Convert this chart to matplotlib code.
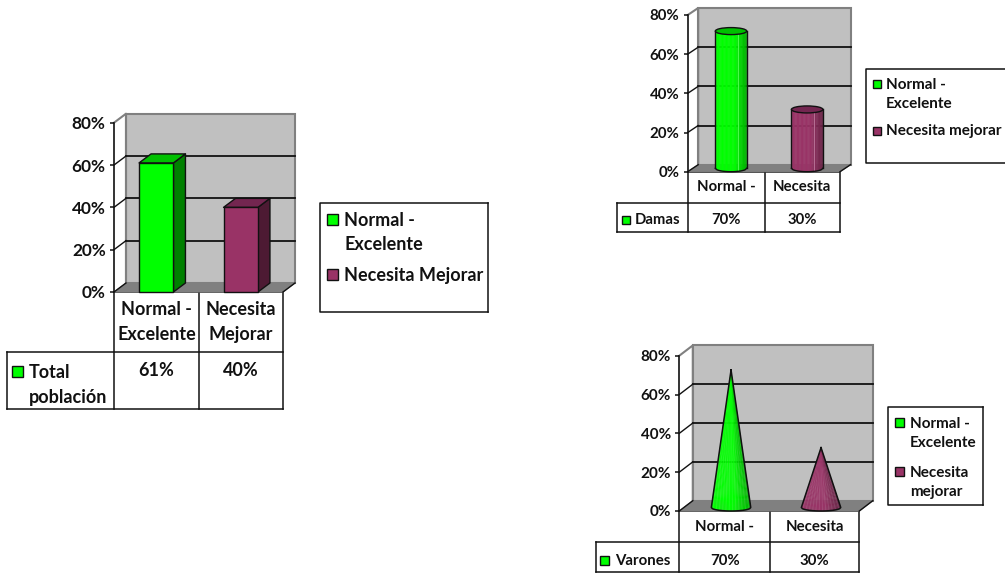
import numpy as np
import matplotlib
matplotlib.use("Agg")
import matplotlib.pyplot as plt
from matplotlib.colors import to_rgb
from matplotlib.patches import Polygon, Rectangle, Ellipse

plt.rcParams["font.family"] = ["Lato", "DejaVu Sans"]
plt.rcParams["font.weight"] = "bold"

W, H = 1005, 573

# Values
y_ticks = [0, 20, 40, 60, 80]
total_values = [61, 40]
damas_values = [70, 30]
varones_values = [70, 30]
total_categories = ["Normal -\nExcelente", "Necesita\nMejorar"]
damas_categories = ["Normal -", "Necesita"]
varones_categories = ["Normal -", "Necesita"]
total_series = "Total\npoblación"
damas_series = "Damas"
varones_series = "Varones"
total_legend = ["Normal -\nExcelente", "Necesita Mejorar"]
damas_legend = ["Normal -\nExcelente", "Necesita mejorar"]
varones_legend = ["Normal -\nExcelente", "Necesita\nmejorar"]

# Palette
GREEN = "#00FF00"
MAROON = "#993366"
GREEN_TOP, GREEN_SIDE = "#00C000", "#008000"
MAROON_TOP, MAROON_SIDE = "#732650", "#4D1A33"
WALL = "#C0C0C0"
FLOOR = "#808080"
INK = "#111111"

fig = plt.figure(figsize=(W / 100, H / 100), dpi=100)

# Pixel-space layer for table grids and legend boxes
sheet = fig.add_axes([0, 0, 1, 1])
sheet.set_xlim(0, W)
sheet.set_ylim(H, 0)
sheet.axis("off")


def shade(color, factor, tint=0.0):
    rgb = np.array(to_rgb(color)) * factor
    return tuple(rgb + (1 - rgb) * tint)


def make_axes(left, right, top, bottom, tick_size):
    ax = fig.add_axes([left / W, 1 - bottom / H, (right - left) / W, (bottom - top) / H])
    ax.set_xlim(0, 2)
    ax.set_ylim(0, 80)
    ax.patch.set_alpha(0)
    for name in ("top", "right", "bottom"):
        ax.spines[name].set_visible(False)
    ax.spines["left"].set_linewidth(1.2)
    ax.spines["left"].set_color(INK)
    ax.set_xticks([])
    ax.set_yticks(y_ticks)
    ax.set_yticklabels([f"{t}%" for t in y_ticks], fontsize=tick_size, color=INK)
    ax.tick_params(axis="y", length=3, width=1.1, pad=3, color=INK)
    return ax


def draw_room(ax, ddx, ddy):
    """Back wall, floor and gridlines; depth offset is in data units."""
    ax.add_patch(Rectangle((ddx, ddy), 2, 80, fc=WALL, ec=FLOOR, lw=1.5, clip_on=False, zorder=1))
    ax.add_patch(Polygon([(0, 0), (2, 0), (2 + ddx, ddy), (ddx, ddy)], fc=FLOOR, ec=FLOOR, lw=0.8,
                         clip_on=False, zorder=1.2))
    ax.plot([0, ddx, ddx], [80, 80 + ddy, ddy], color=FLOOR, lw=1.5, clip_on=False, zorder=1.1)
    for t in y_ticks[:-1]:
        ax.plot([0, ddx], [t, t + ddy], color=INK, lw=1.0, clip_on=False, zorder=1.3)
    for t in y_ticks[1:-1]:
        ax.plot([ddx, 2 + ddx], [t + ddy, t + ddy], color=INK, lw=1.3, clip_on=False, zorder=1.3)
    ax.plot([2, 2 + ddx], [0, ddy], color=INK, lw=1.0, clip_on=False, zorder=1.3)


def draw_box(ax, i, value, half, ddx, ddy, front, top, side):
    c = i + 0.5
    l, r = c - half, c + half
    kw = dict(ec=INK, lw=1.0, clip_on=False, zorder=3, joinstyle="round")
    ax.add_patch(Polygon([(r, 0), (r + ddx, ddy), (r + ddx, value + ddy), (r, value)], fc=side, **kw))
    ax.add_patch(Polygon([(l, value), (r, value), (r + ddx, value + ddy), (l + ddx, value + ddy)], fc=top, **kw))
    ax.add_patch(Rectangle((l, 0), r - l, value, fc=front, **kw))


def facet_shades(color, n, streaks=False):
    """Colour of each vertical facet from the left edge to the right edge."""
    out = []
    for k, t in enumerate(np.linspace(0, 1, n)):
        factor = 1.0 if t < 0.62 else 1.0 - 0.3 * ((t - 0.62) / 0.38)
        tint = 0.10 if streaks and k % 3 == 1 else 0.0
        out.append(shade(color, factor, tint))
    return out


def draw_cylinder(ax, i, value, half, ddx, ddy, ry, front, top):
    cx = i + 0.5 + ddx / 2
    base, head = ddy / 2, value + ddy / 2
    xs = np.linspace(-half, half, 25)
    # facets follow the elliptical section of the tube
    ell = ry * np.sqrt(np.clip(1 - (xs / half) ** 2, 0, 1))
    for k, col in enumerate(facet_shades(front, len(xs) - 1)):
        ax.add_patch(Polygon([(cx + xs[k], base - ell[k]), (cx + xs[k + 1], base - ell[k + 1]),
                              (cx + xs[k + 1], head - ell[k + 1]), (cx + xs[k], head - ell[k])],
                             fc=col, ec=col, lw=0.3, clip_on=False, zorder=3))
    # pale seam running down the right part of the tube
    seam = cx + 0.45 * half
    ax.plot([seam, seam], [base - 0.7 * ry, head - 0.7 * ry], color=shade(front, 1.0, 0.35), lw=0.6,
            clip_on=False, zorder=3.1)
    ax.plot(cx + xs, base - ell, color=INK, lw=1.0, clip_on=False, zorder=3.2)
    ax.plot([cx - half, cx - half], [base, head], color=INK, lw=1.0, clip_on=False, zorder=3.2)
    ax.plot([cx + half, cx + half], [base, head], color=INK, lw=1.0, clip_on=False, zorder=3.2)
    ax.add_patch(Ellipse((cx, head), 2 * half, 2 * ry, fc=top, ec=INK, lw=1.0, clip_on=False, zorder=3.3))


def draw_cone(ax, i, value, half, ddx, ddy, ry, front):
    cx = i + 0.5 + ddx / 2
    base, tip = ddy * 0.34, value + ddy / 2
    xs = np.linspace(-half, half, 37)
    ell = ry * np.sqrt(np.clip(1 - (xs / half) ** 2, 0, 1))
    for k, col in enumerate(facet_shades(front, len(xs) - 1, streaks=True)):
        ax.add_patch(Polygon([(cx + xs[k], base - ell[k]), (cx + xs[k + 1], base - ell[k + 1]), (cx, tip)],
                             fc=col, ec=col, lw=0.2, clip_on=False, zorder=3))
    ax.plot(np.r_[cx, cx + xs, cx], np.r_[tip, base - ell, tip], color=INK, lw=1.1, clip_on=False, zorder=3.2)


def draw_table(left, mid, right, y0, y1, y2, label_left, series, categories, values, size, swatch,
               label_x, val_y, label_y, spacing=1.25):
    lw = 1.1
    sheet.plot([left, right, right], [y0, y0, y2], color=INK, lw=lw)
    sheet.plot([left, left], [y0, y2], color=INK, lw=lw)
    sheet.plot([mid, mid], [y0, y2], color=INK, lw=lw)
    sheet.plot([label_left, right], [y1, y1], color=INK, lw=lw)
    sheet.plot([label_left, right], [y2, y2], color=INK, lw=lw)
    sheet.plot([label_left, label_left], [y1, y2], color=INK, lw=lw)
    centers = [(left + mid) / 2, (mid + right) / 2]
    for c, cat, v in zip(centers, categories, values):
        sheet.text(c, (y0 + y1) / 2, cat, ha="center", va="center", fontsize=size, color=INK, linespacing=spacing)
        sheet.text(c, val_y, f"{v}%", ha="center", va="center", fontsize=size, color=INK)
    sx, sy, ss = swatch
    sheet.add_patch(Rectangle((sx, sy), ss, ss, fc=GREEN, ec=INK, lw=1.0))
    sheet.text(label_x, label_y, series, ha="left", va="center", fontsize=size, color=INK, linespacing=spacing)


def draw_legend(box, labels, swatches, text_x, text_ys, size, swatch_size, spacing, open_right=False):
    x0, y0, x1, y1 = box
    lw = 1.1
    sheet.plot([x1, x0, x0, x1], [y0, y0, y1, y1], color=INK, lw=lw, clip_on=False)
    if not open_right:
        sheet.plot([x1, x1], [y0, y1], color=INK, lw=lw)
    for label, (sx, sy), color, ty in zip(labels, swatches, (GREEN, MAROON), text_ys):
        sheet.add_patch(Rectangle((sx, sy), swatch_size, swatch_size, fc=color, ec=INK, lw=1.0))
        sheet.text(text_x, ty, label, ha="left", va="center", fontsize=size, color=INK, linespacing=spacing)


# Chart 1: all respondents, rectangular bars
ax1 = make_axes(114, 283, 122.7, 292, 12.4)
d1x, d1y = 12 / (169 / 2), 9 / (169.3 / 80)
draw_room(ax1, d1x, d1y)
for i, (v, f, t, s) in enumerate(zip(total_values, (GREEN, MAROON), (GREEN_TOP, MAROON_TOP), (GREEN_SIDE, MAROON_SIDE))):
    draw_box(ax1, i, v, 17.2 / (169 / 2), d1x, d1y, f, t, s)
draw_table(114, 199, 283, 292, 351.5, 409, 7, total_series, total_categories, total_values, 13.0,
           (12.3, 365.5, 11), 28.5, 370, 385, spacing=1.55)
draw_legend((319.5, 202.7, 488, 312), total_legend, [(327.3, 214), (327.3, 269)], 344,
            [232, 275], 13.0, 11, 1.5)

# Chart 2: women, cylinders
ax2 = make_axes(687.7, 840, 15, 171.7, 10.8)
d2x, d2y = 10.5 / (152.3 / 2), 7 / (156.7 / 80)
draw_room(ax2, d2x, d2y)
for i, (v, f, t) in enumerate(zip(damas_values, (GREEN, MAROON), (GREEN_TOP, MAROON_TOP))):
    draw_cylinder(ax2, i, v, 15.7 / (152.3 / 2), d2x, d2y, 3.5 / (156.7 / 80), f, t)
draw_table(687.7, 764.7, 840, 171.7, 202.7, 231.7, 617, damas_series, damas_categories, damas_values, 10.7,
           (621.7, 216, 8), 635, 219.5, 219.5)
draw_legend((866, 69, 1006, 162.7), damas_legend, [(872.7, 80), (872.7, 127)], 886,
            [94.5, 131], 11.0, 8, 1.45, open_right=True)

# Chart 3: men, cones
ax3 = make_axes(679.3, 859.3, 355.7, 511, 11.0)
d3x, d3y = 13.5 / (180 / 2), 10.3 / (155.3 / 80)
draw_room(ax3, d3x, d3y)
for i, (v, f) in enumerate(zip(varones_values, (GREEN, MAROON))):
    draw_cone(ax3, i, v, 19.7 / (180 / 2), d3x, d3y, 3.5 / (155.3 / 80), f)
draw_table(679.3, 770, 859.3, 511, 542.3, 571.7, 595.7, varones_series, varones_categories, varones_values, 10.8,
           (600, 556, 8.5), 615, 560.7, 560.7)
draw_legend((888.3, 406.7, 982.7, 505), varones_legend, [(895, 418), (895, 467)], 910,
            [433.5, 482.5], 11.0, 9, 1.45)

fig.savefig("out.png", dpi=100)
